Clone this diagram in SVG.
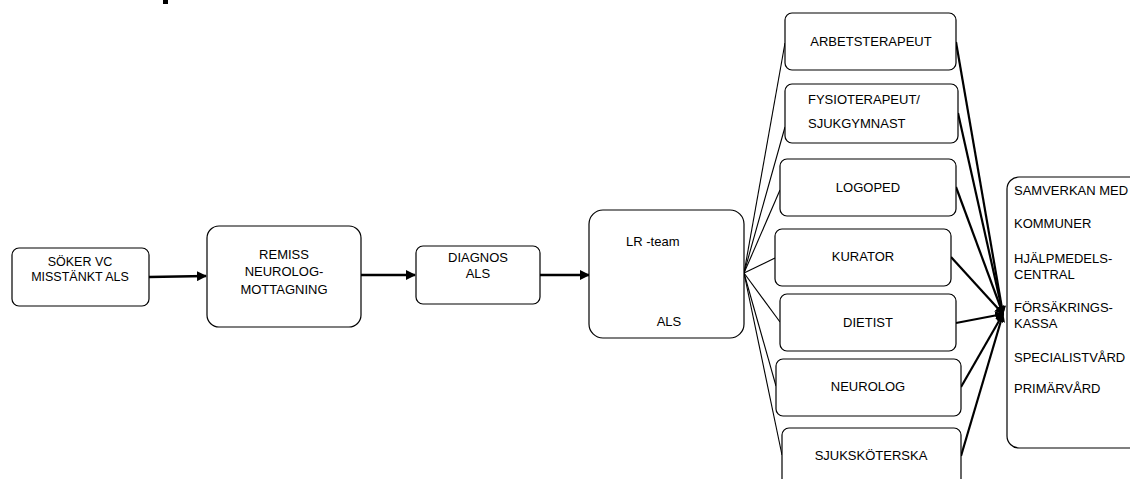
<svg xmlns="http://www.w3.org/2000/svg" width="1130" height="479" viewBox="0 0 1130 479">
<style>
.box{fill:#fff;stroke:#000;stroke-width:1.2}
.t{font-family:"Liberation Sans",Arial,sans-serif;font-size:13px;fill:#000}
.c{text-anchor:middle}
.main{stroke:#000;stroke-width:2.5;fill:none}
.fan{stroke:#000;stroke-width:1.1;fill:none}
.conv{stroke:#000;stroke-width:2.2;fill:none}
</style>
<defs>
<marker id="ah" viewBox="0 0 10 10" refX="9" refY="5" markerWidth="4.2" markerHeight="4" orient="auto" markerUnits="strokeWidth">
<path d="M0,0 L10,5 L0,10 Z" fill="#000"/>
</marker>
<marker id="ah2" viewBox="0 0 10 10" refX="9" refY="5" markerWidth="4" markerHeight="4" orient="auto" markerUnits="strokeWidth">
<path d="M0,0 L10,5 L0,10 Z" fill="#000"/>
</marker>
</defs>
<rect width="1130" height="479" fill="#fff"/>
<rect x="163" y="0" width="5" height="4" fill="#000"/>

<g id="connectors">
<line class="main" x1="149" y1="277" x2="206" y2="276" marker-end="url(#ah)"/>
<line class="main" x1="361" y1="275" x2="415" y2="275" marker-end="url(#ah)"/>
<line class="main" x1="540" y1="275" x2="589" y2="275" marker-end="url(#ah)"/>
<g class="fan">
<line x1="744" y1="273" x2="785" y2="43"/>
<line x1="744" y1="273" x2="785" y2="127"/>
<line x1="744" y1="273" x2="780" y2="190"/>
<line x1="744" y1="273" x2="775" y2="258"/>
<line x1="744" y1="273" x2="780" y2="322"/>
<line x1="744" y1="273" x2="776" y2="386"/>
<line x1="744" y1="273" x2="782" y2="455"/>
</g>
<g class="conv">
<line x1="956" y1="42" x2="1003" y2="314" marker-end="url(#ah2)"/>
<line x1="958" y1="113" x2="1003" y2="314" marker-end="url(#ah2)"/>
<line x1="956" y1="187" x2="1003" y2="314" marker-end="url(#ah2)"/>
<line x1="951" y1="257" x2="1003" y2="314" marker-end="url(#ah2)"/>
<line x1="956" y1="323" x2="1003" y2="314" marker-end="url(#ah2)"/>
<line x1="961" y1="387" x2="1003" y2="314" marker-end="url(#ah2)"/>
<line x1="961" y1="456" x2="1003" y2="314" marker-end="url(#ah2)"/>
</g>
</g>

<g id="soker">
<rect class="box" x="12" y="248" width="137" height="58" rx="7"/>
<text class="t c" x="80" y="266" style="font-size:12.5px">SÖKER VC</text>
<text class="t c" x="80" y="281" style="font-size:12.5px">MISSTÄNKT ALS</text>
</g>
<g id="remiss">
<rect class="box" x="207" y="226" width="154" height="101" rx="12"/>
<text class="t c" x="284" y="259">REMISS</text>
<text class="t c" x="284" y="276">NEUROLOG-</text>
<text class="t c" x="284" y="294">MOTTAGNING</text>
</g>
<g id="diagnos">
<rect class="box" x="416" y="246" width="124" height="58" rx="7"/>
<text class="t c" x="478" y="262">DIAGNOS</text>
<text class="t c" x="478" y="278">ALS</text>
</g>
<g id="lrteam">
<rect class="box" x="589" y="210" width="155" height="128" rx="14"/>
<text class="t" x="626" y="246">LR -team</text>
<text class="t c" x="669" y="326">ALS</text>
</g>
<g id="arbetsterapeut">
<rect class="box" x="785" y="13" width="171" height="57" rx="7"/>
<text class="t c" x="871" y="46">ARBETSTERAPEUT</text>
</g>
<g id="fysioterapeut">
<rect class="box" x="785" y="84" width="173" height="59" rx="7"/>
<text class="t" x="808" y="104">FYSIOTERAPEUT/</text>
<text class="t" x="808" y="128">SJUKGYMNAST</text>
</g>
<g id="logoped">
<rect class="box" x="780" y="159" width="176" height="57" rx="7"/>
<text class="t c" x="868" y="192">LOGOPED</text>
</g>
<g id="kurator">
<rect class="box" x="775" y="229" width="176" height="57" rx="7"/>
<text class="t c" x="863" y="261">KURATOR</text>
</g>
<g id="dietist">
<rect class="box" x="780" y="294" width="176" height="57" rx="7"/>
<text class="t c" x="868" y="327">DIETIST</text>
</g>
<g id="neurolog">
<rect class="box" x="776" y="359" width="185" height="57" rx="7"/>
<text class="t c" x="868" y="391">NEUROLOG</text>
</g>
<g id="sjukskoterska">
<rect class="box" x="782" y="428" width="179" height="70" rx="7"/>
<text class="t c" x="871" y="460">SJUKSKÖTERSKA</text>
</g>
<g id="samverkan">
<rect class="box" x="1007" y="177" width="140" height="271" rx="12"/>
<text class="t" x="1014" y="195">SAMVERKAN MED</text>
<text class="t" x="1014" y="228">KOMMUNER</text>
<text class="t" x="1014" y="263">HJÄLPMEDELS-</text>
<text class="t" x="1014" y="279">CENTRAL</text>
<text class="t" x="1014" y="312">FÖRSÄKRINGS-</text>
<text class="t" x="1014" y="328">KASSA</text>
<text class="t" x="1014" y="362">SPECIALISTVÅRD</text>
<text class="t" x="1014" y="393">PRIMÄRVÅRD</text>
</g>
</svg>
